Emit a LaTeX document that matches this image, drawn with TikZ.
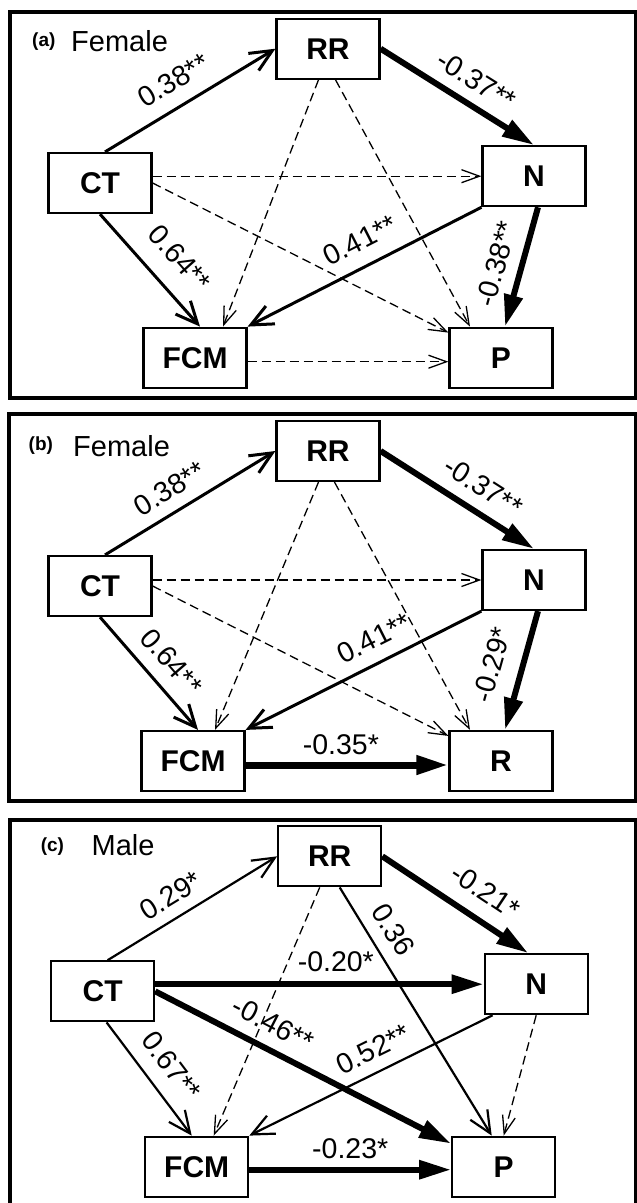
\documentclass[tikz,border=0pt]{standalone}
\usepackage{fontspec}
\setmainfont{Liberation Sans}
\usetikzlibrary{arrows.meta}
\begin{document}
\begin{tikzpicture}[x=1pt,y=-1pt,
  box/.style={draw, line width=2.2pt, minimum width=103pt, minimum height=60pt, inner sep=0pt, font=\bfseries\fontsize{30}{36}\selectfont},
  panelframe/.style={draw, line width=3.5pt},
  med/.style={line width=3pt, -{Straight Barb[length=22pt,width=20pt]}},
  lite/.style={line width=2.2pt, -{Straight Barb[length=22pt,width=20pt]}},
  thk/.style={line width=6pt, -{Triangle[length=32pt,width=18pt]}},
  dsh/.style={line width=1.3pt, dash pattern=on 9pt off 5pt, -{Straight Barb[length=18pt,width=13pt]}},
  lab/.style={sloped, inner sep=0pt, font=\fontsize{28.5}{34}\selectfont},
  tagtext/.style={font=\bfseries\fontsize{19}{22}\selectfont, inner sep=0pt, anchor=base west},
  titletext/.style={font=\fontsize{29}{34}\selectfont, inner sep=0pt, anchor=base west}
]
\clip (0,0) rectangle (637,1203);
% frames
\draw[panelframe] (10,12) rectangle (635.5,398);
\draw[panelframe] (9,414) rectangle (635.5,801);
\draw[panelframe] (10,820) rectangle (635.5,1215);

% ---------- panel (a)
\node[tagtext] (taga) at (32,46) {(a)};
\node[titletext] (titlea) at (71,51.7) {Female};
\node[box] (RRa) at (328,48.7) {RR};
\node[box] (CTa) at (100,183) {CT};
\node[box] (Na) at (534,176.2) {N};
\node[box] (FCMa) at (195,357.7) {FCM};
\node[box] (Pa) at (501,357.7) {P};
\draw[med] ([xshift=5pt]CTa.north) -- node[lab,pos=0.48,above=14pt] (la1) {0.38**} (RRa.west);
\draw[thk] (RRa.east) -- node[lab,pos=0.54,above=11pt] (la2) {-0.37**} (Na.north);
\draw[thk] ([xshift=4pt]Na.south) -- node[lab,pos=0.53,above=12pt] (la3) {-0.38**} ([xshift=4pt]Pa.north);
\draw[med] (CTa.south) -- node[lab,pos=0.57,above=19pt] (la4) {0.64**} ([xshift=5pt]FCMa.north);
\draw[med] (Na.south west) -- node[lab,pos=0.47,above=14pt] (la5) {0.41**} (FCMa.north east);
\draw[dsh] (CTa.east |- Na.west) -- (Na.west);
\draw[dsh] (CTa.east) -- ([yshift=-6pt]Pa.north west);
\draw[dsh] ([xshift=-9.5pt]RRa.south) -- ([xshift=28pt]FCMa.north);
\draw[dsh] ([xshift=7.5pt]RRa.south) -- ([xshift=-31pt]Pa.north);
\draw[dsh] ([yshift=-4pt]FCMa.east) -- ([yshift=-4pt]Pa.west);

% ---------- panel (b)
\node[tagtext] (tagb) at (28.5,450) {(b)};
\node[titletext] (titleb) at (73,456.7) {Female};
\node[box] (RRb) at (328,451) {RR};
\node[box] (CTb) at (100,586) {CT};
\node[box] (Nb) at (534,580) {N};
\node[box] (FCMb) at (193,761) {FCM};
\node[box] (Rb) at (501,761) {R};
\draw[med] ([xshift=5pt]CTb.north) -- node[lab,pos=0.45,above=11.5pt] (lb1) {0.38**} (RRb.west);
\draw[thk] (RRb.east) -- node[lab,pos=0.58,above=12pt] (lb2) {-0.37**} (Nb.north);
\draw[thk] ([xshift=4pt]Nb.south) -- node[lab,pos=0.52,above=17pt] (lb3) {-0.29*} ([xshift=4pt]Rb.north);
\draw[med] (CTb.south) -- node[lab,pos=0.54,above=13pt] (lb4) {0.64**} ([xshift=5pt]FCMb.north);
\draw[med] (Nb.south west) -- node[lab,pos=0.41,above=12.5pt] (lb5) {0.41**} (FCMb.north east);
\draw[thk,line width=7pt] ([yshift=-4pt]FCMb.east) -- node[lab,pos=0.47,above=7pt] (lb6) {-0.35*} ([yshift=-4pt]Rb.west);
\draw[dsh] (CTb.east |- Nb.west) -- (Nb.west);
\draw[dsh] (CTb.east) -- ([yshift=-6pt]Rb.north west);
\draw[dsh] ([xshift=-9.5pt]RRb.south) -- ([xshift=22pt]FCMb.north);
\draw[dsh] ([xshift=6.5pt]RRb.south) -- ([xshift=-31pt]Rb.north);

% ---------- panel (c)
\node[tagtext] (tagc) at (40.6,851) {(c)};
\node[titletext] (titlec) at (91.5,855) {Male};
\node[box] (RRc) at (329.7,856.3) {RR};
\node[box] (CTc) at (102.6,991.3) {CT};
\node[box] (Nc) at (536.2,984.2) {N};
\node[box] (FCMc) at (196.7,1166.7) {FCM};
\node[box] (Pc) at (503.7,1166.7) {P};
\draw[lite] ([xshift=5pt]CTc.north) -- node[lab,pos=0.44,above=11pt] (lc1) {0.29*} (RRc.west);
\draw[thk] (RRc.east) -- node[lab,pos=0.6,above=15pt] (lc2) {-0.21*} ([xshift=-8pt]Nc.north);
\draw[thk] (CTc.east |- Nc.west) -- node[lab,pos=0.55,above=9pt] (lc3) {-0.20*} (Nc.west);
\draw[thk] (CTc.east) -- node[lab,pos=0.36,above=12pt] (lc4) {-0.46**} ([yshift=-8pt]Pc.north west);
\draw[lite] ([xshift=10pt]RRc.south) -- node[lab,pos=0.22,above=12.5pt] (lc5) {0.36} ([xshift=-12pt]Pc.north);
\draw[dsh] (Nc.south) -- (Pc.north);
\draw[lite] ([xshift=4pt]CTc.south) -- node[lab,pos=0.52,above=14.5pt] (lc6) {0.67**} ([xshift=-5pt]FCMc.north);
\draw[lite] ([xshift=9pt]Nc.south west) -- node[lab,pos=0.45,above=11.5pt] (lc7) {0.52**} (FCMc.north east);
\draw[dsh] ([xshift=-10pt]RRc.south) -- ([xshift=17pt]FCMc.north);
\draw[thk] ([yshift=-3pt]FCMc.east) -- node[lab,pos=0.5,above=8pt] (lc8) {-0.23*} ([yshift=-3pt]Pc.west);
\end{tikzpicture}
\end{document}
